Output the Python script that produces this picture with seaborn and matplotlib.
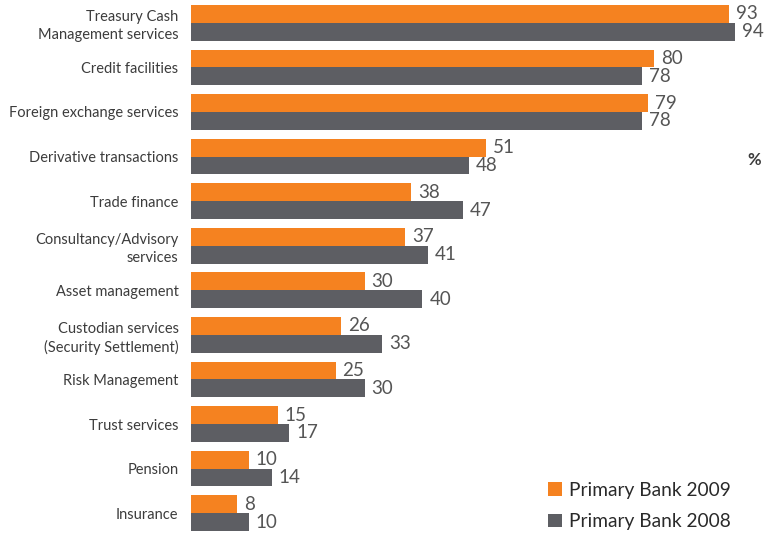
import matplotlib
matplotlib.use("Agg")
import matplotlib.pyplot as plt
import seaborn as sns
import pandas as pd
from matplotlib.patches import Patch

categories = [
    "Treasury Cash\nManagement services",
    "Credit facilities",
    "Foreign exchange services",
    "Derivative transactions",
    "Trade finance",
    "Consultancy/Advisory\nservices",
    "Asset management",
    "Custodian services\n(Security Settlement)",
    "Risk Management",
    "Trust services",
    "Pension",
    "Insurance",
]
values_2009 = [93, 80, 79, 51, 38, 37, 30, 26, 25, 15, 10, 8]
values_2008 = [94, 78, 78, 48, 47, 41, 40, 33, 30, 17, 14, 10]
series = ["Primary Bank 2009", "Primary Bank 2008"]
colors = ["#F58220", "#5D5E63"]

df = pd.DataFrame({
    "category": categories * 2,
    "value": values_2009 + values_2008,
    "series": [series[0]] * len(categories) + [series[1]] * len(categories),
})

sns.set_style("white")
plt.rcParams["font.family"] = ["Lato", "DejaVu Sans"]

W, H = 767, 533
fig = plt.figure(figsize=(W / 100, H / 100), dpi=100)
left, right_px, top, bottom = 191, 764, 5, 531
ax = fig.add_axes([left / W, (H - bottom) / H, (right_px - left) / W, (bottom - top) / H])

sns.barplot(data=df, y="category", x="value", hue="series", orient="h",
            palette=colors, width=0.8, saturation=1, ax=ax, legend=False,
            linewidth=0, errorbar=None)

ax.set_xlim(0, (right_px - left) / 5.785)
ax.set_ylim(len(categories) - 0.6, -0.4)
for s in ax.spines.values():
    s.set_visible(False)
ax.set_xticks([])
ax.set_xlabel("")
ax.set_ylabel("")
ax.tick_params(axis="y", length=0, pad=9, labelsize=10.5, labelcolor="#3c3c3c")
for lbl in ax.get_yticklabels():
    lbl.set_linespacing(1.3)

for cont in ax.containers:
    ax.bar_label(cont, padding=5, fontsize=13.5, color="#555555")

fig.text(754 / W, 1 - 160 / H, "%", ha="center", va="center", fontsize=12,
         fontweight="bold", color="#3c3c3c")

handles = [Patch(facecolor=c, edgecolor="none") for c in colors]
leg = fig.legend(handles, series, loc="lower right", bbox_to_anchor=(748 / W, -0.027),
                 frameon=False, fontsize=13.8, handlelength=0.72, handleheight=0.72,
                 handletextpad=0.35, labelspacing=0.75, labelcolor="#2a2a2a")

fig.savefig("out.png", dpi=100)
